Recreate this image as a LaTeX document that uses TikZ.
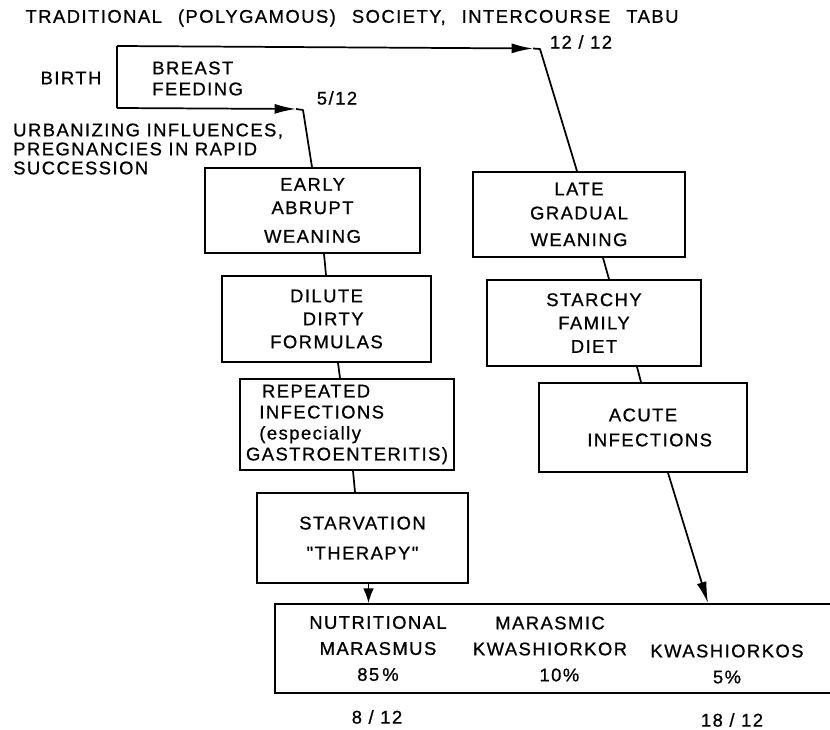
\documentclass[tikz,border=0pt]{standalone}
\usepackage{fontspec}
\setmainfont{Liberation Sans}[LetterSpace=8,FakeBold=0.8,Ligatures=TeXOff]
\usetikzlibrary{arrows.meta,calc}
\newcommand\titlegap{\hspace{12pt}}
\begin{document}
\begin{tikzpicture}[x=0.75pt,y=-0.75pt,
  every node/.style={font=\fontsize{13.8}{18}\selectfont, inner sep=0pt},
  box/.style={draw, line width=1.3pt, align=center},
  lbl/.style={align=center},
  conn/.style={line width=1.3pt},
  tipA/.style={-{Latex[length=16pt,width=7.5pt]}},
  tipB/.style={-{Latex[length=11pt,width=8pt]}}]
\useasboundingbox (0,0) rectangle (830,730);

% labels outside boxes
\node (title) at (352,18) {TRADITIONAL\titlegap(POLYGAMOUS)\titlegap SOCIETY,\titlegap INTERCOURSE\titlegap TABU};
\node (m12) at (581,42) {12 / 12};
\node (birth) at (71,78) {BIRTH};
\node[align=left, anchor=west, font=\fontsize{13.8}{15.75}\selectfont] (breast) at (152,78.5) {BREAST\\FEEDING};
\node (m5) at (337,98) {5/12};
\node[align=left, anchor=west, font=\fontsize{13.8}{14.25}\selectfont] (urban) at (13,149) {URBANIZING INFLUENCES,\\PREGNANCIES IN RAPID\\SUCCESSION};

% boxes
\node[box, minimum width=161.25pt, minimum height=63.75pt, font=\fontsize{13.8}{17.5}\selectfont] (early) at (312.5,210.5) {EARLY\\ABRUPT\\[4pt]WEANING};
\node[box, minimum width=156.75pt, minimum height=64.5pt, font=\fontsize{13.8}{17.25}\selectfont] (dilute) at (326.5,319) {DILUTE\\\hspace*{10pt}DIRTY\\FORMULAS};
\node[box, minimum width=160.5pt, minimum height=68.25pt, align=left, font=\fontsize{13.8}{15.75}\selectfont] (repeated) at (347,424.5) {\hspace*{12pt}REPEATED\\\hspace*{10pt}INFECTIONS\\\hspace*{10pt}(especially\\GASTROENTERITIS)};
\node[box, minimum width=158.25pt, minimum height=67.5pt, font=\fontsize{13.8}{22.5}\selectfont] (starv) at (362.5,538) {STARVATION\\"THERAPY"};
\node[box, minimum width=159pt, minimum height=63.75pt, font=\fontsize{13.8}{18}\selectfont] (late) at (579,214.5) {LATE\\GRADUAL\\[2pt]WEANING};
\node[box, minimum width=160.5pt, minimum height=64.5pt, font=\fontsize{13.8}{17.5}\selectfont] (starchy) at (594,323) {STARCHY\\FAMILY\\DIET};
\node[box, minimum width=156pt, minimum height=66.75pt, font=\fontsize{13.8}{18.75}\selectfont] (acute) at (643,427.5) {ACUTE\\\hspace*{10pt}INFECTIONS};
\node[box, minimum width=431.25pt, minimum height=66.75pt] (result) at (562.5,648.5) {};

% texts in the result box
\node[lbl, font=\fontsize{13.8}{19.5}\selectfont] (nutr) at (378,648.5) {NUTRITIONAL\\MARASMUS\\85\,\%};
\node[lbl, font=\fontsize{13.8}{19.5}\selectfont] (maras) at (550,649) {MARASMIC\\KWASHIORKOR\\\hspace*{14pt}10\%};
\node[lbl, font=\fontsize{13.8}{19.5}\selectfont] (kwash) at (727,664) {KWASHIORKOS\\5\%};
\node (m8) at (377,717) {8 / 12};
\node (m18) at (732,720) {18 / 12};

% branching connectors
\coordinate (bt) at (117,46);
\coordinate (bb) at (117,108);
\coordinate (t12) at (533,48.5);
\coordinate (c12) at (540,49);
\coordinate (t5) at (296,109);
\coordinate (c5) at (303,110);
\draw[conn] (bt) -- (bb);
\draw[conn,tipA] (bt) -- (t12);
\draw[conn,line join=round] (t12) -- (c12) -- ($(late.north)+(-2,0)$);
\draw[conn,tipA] (bb) -- (t5);
\draw[conn,line join=round] (t5) -- (c5) -- ($(early.north)+(-0.5,0)$);

% left chain
\draw[conn] ($(early.south)+(11.5,0)$) -- ($(dilute.north)+(-0.5,0)$);
\draw[conn] ($(dilute.south)+(11.5,0)$) -- ($(repeated.north)+(-7,0)$);
\draw[conn] ($(repeated.south)+(6,0)$) -- ($(starv.north)+(-7.5,0)$);
\coordinate (sa) at ($(starv.south)+(6,0)$);
\draw[conn,tipB] (sa) -- (sa |- result.north);

% right chain
\draw[conn] ($(late.south)+(24,0)$) -- ($(starchy.north)+(15,0)$);
\draw[conn] ($(starchy.south)+(43,0)$) -- ($(acute.north)+(-2,0)$);
\draw[conn,tipA] ($(acute.south)+(25,0)$) -- ($(result.north)+(145.5,0)$);
\end{tikzpicture}
\end{document}
